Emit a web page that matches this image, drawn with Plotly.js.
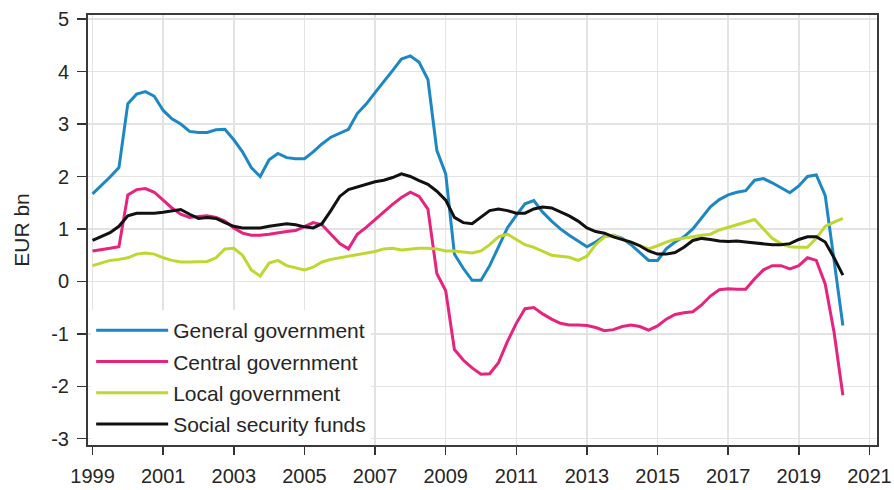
<!DOCTYPE html>
<html>
<head>
<meta charset="utf-8">
<script src="https://cdn.plot.ly/plotly-3.0.1.min.js"></script>
<style>
html,body{margin:0;padding:0;background:#fff;}
#chart{width:894px;height:490px;}
</style>
</head>
<body>
<div id="chart"></div>
<script>
// Quarterly observations, 1999Q1 .. 2020Q2
var startYear = 1999;
var quarterCount = 86;

var generalGovernment = [
  1.67, 1.82, 1.99, 2.17,
  3.39, 3.57, 3.62, 3.53,
  3.26, 3.10, 3.00, 2.86,
  2.84, 2.84, 2.89, 2.90,
  2.70, 2.47, 2.17, 2.00,
  2.32, 2.44, 2.36, 2.34,
  2.34, 2.47, 2.62, 2.75,
  2.82, 2.90, 3.20, 3.38,
  3.60, 3.80, 4.02, 4.24,
  4.30, 4.18, 3.85, 2.50,
  2.05, 0.52, 0.25, 0.02,
  0.02, 0.30, 0.65, 1.02,
  1.26, 1.48, 1.54, 1.32,
  1.15, 1.00, 0.88, 0.77,
  0.66, 0.75, 0.86, 0.88,
  0.82, 0.70, 0.55, 0.40,
  0.40, 0.62, 0.75, 0.85,
  1.00, 1.22, 1.42, 1.56,
  1.65, 1.70, 1.73, 1.93,
  1.96, 1.88, 1.78, 1.69,
  1.82, 2.00, 2.03, 1.64,
  0.40, -0.84
];

var centralGovernment = [
  0.58, 0.60, 0.63, 0.66,
  1.65, 1.75, 1.77, 1.70,
  1.55, 1.40, 1.28, 1.22,
  1.24, 1.25, 1.22, 1.15,
  1.02, 0.92, 0.88, 0.88,
  0.90, 0.93, 0.95, 0.97,
  1.05, 1.12, 1.08, 0.90,
  0.72, 0.62, 0.90, 1.03,
  1.18, 1.33, 1.47, 1.60,
  1.70, 1.62, 1.38, 0.15,
  -0.18, -1.30, -1.50, -1.65,
  -1.77, -1.76, -1.55, -1.15,
  -0.80, -0.52, -0.50, -0.62,
  -0.72, -0.80, -0.83, -0.83,
  -0.84, -0.88, -0.94, -0.92,
  -0.86, -0.83, -0.86, -0.93,
  -0.85, -0.72, -0.63, -0.60,
  -0.58, -0.45, -0.28, -0.16,
  -0.14, -0.15, -0.15, 0.05,
  0.22, 0.30, 0.30, 0.24,
  0.30, 0.45, 0.40, -0.05,
  -0.97, -2.17
];

var localGovernment = [
  0.30, 0.35, 0.40, 0.42,
  0.45, 0.52, 0.54, 0.52,
  0.45, 0.40, 0.37, 0.37,
  0.38, 0.38, 0.45, 0.62,
  0.63, 0.50, 0.22, 0.10,
  0.35, 0.40, 0.30, 0.26,
  0.22, 0.27, 0.37, 0.42,
  0.45, 0.48, 0.50, 0.53,
  0.57, 0.62, 0.63, 0.60,
  0.62, 0.63, 0.63, 0.62,
  0.58, 0.58, 0.56, 0.54,
  0.58, 0.70, 0.85, 0.90,
  0.80, 0.70, 0.65, 0.58,
  0.50, 0.48, 0.46, 0.40,
  0.48, 0.70, 0.85, 0.88,
  0.80, 0.75, 0.68, 0.62,
  0.68, 0.75, 0.80, 0.82,
  0.85, 0.88, 0.90, 0.98,
  1.03, 1.08, 1.12, 1.18,
  1.00, 0.82, 0.72, 0.66,
  0.65, 0.65, 0.82, 1.05,
  1.13, 1.20
];

var socialSecurityFunds = [
  0.78, 0.85, 0.93, 1.05,
  1.25, 1.30, 1.30, 1.30,
  1.32, 1.35, 1.37, 1.28,
  1.20, 1.22, 1.20, 1.12,
  1.05, 1.02, 1.02, 1.02,
  1.05, 1.08, 1.10, 1.08,
  1.04, 1.02, 1.10, 1.35,
  1.62, 1.75, 1.80, 1.85,
  1.90, 1.93, 1.98, 2.05,
  2.00, 1.92, 1.85, 1.72,
  1.55, 1.22, 1.12, 1.10,
  1.22, 1.35, 1.38, 1.35,
  1.30, 1.30, 1.38, 1.42,
  1.40, 1.32, 1.25, 1.15,
  1.02, 0.95, 0.92, 0.85,
  0.80, 0.75, 0.68, 0.58,
  0.52, 0.52, 0.55, 0.65,
  0.78, 0.82, 0.80, 0.77,
  0.76, 0.77, 0.75, 0.73,
  0.72, 0.70, 0.70, 0.72,
  0.80, 0.85, 0.85, 0.75,
  0.45, 0.12
];

var seriesNames = ["General government", "Central government", "Local government", "Social security funds"];
var seriesColors = ["#1d87c4", "#e6237e", "#bfd730", "#111111"];
var yTickVals = [-3, -2, -1, 0, 1, 2, 3, 4, 5];
var yTickText = ["-3", "-2", "-1", "0", "1", "2", "3", "4", "5"];
var xTickYears = [1999, 2001, 2003, 2005, 2007, 2009, 2011, 2013, 2015, 2017, 2019, 2021];

// quarter dates (category positions)
var quarters = [];
for (var i = 0; i < quarterCount; i++) {
  var yr = startYear + Math.floor(i / 4);
  var m = (i % 4) * 3 + 1;
  quarters.push(yr + "-" + (m < 10 ? "0" + m : m) + "-01");
}

var allSeries = [generalGovernment, centralGovernment, localGovernment, socialSecurityFunds];
var traces = allSeries.map(function (vals, k) {
  return {
    x: quarters,
    y: vals,
    type: "scatter",
    mode: "lines",
    name: seriesNames[k],
    legendgroup: "g" + k,
    line: {color: seriesColors[k], width: 3},
    hoverinfo: "x+y+name"
  };
});

var font = "Liberation Sans, Arial, sans-serif";
var txt = "#262626";
var layout = {
  width: 894,
  height: 490,
  margin: {l: 88, r: 17, t: 15, b: 45},
  paper_bgcolor: "#ffffff",
  plot_bgcolor: "#ffffff",
  font: {family: font, size: 20, color: txt},
  showlegend: true,
  legend: {
    x: 0.004, y: 0.0, xanchor: "left", yanchor: "bottom",
    bgcolor: "#ffffff",
    font: {family: font, size: 21, color: txt},
    traceorder: "grouped",
    tracegroupgap: 1,
    itemwidth: 72
  },
  xaxis: {
    type: "date",
    range: ["1998-11-15", "2021-03-20"],
    tickvals: xTickYears.map(function (y) { return y + "-01-01"; }),
    ticktext: xTickYears.map(String),
    ticks: "outside",
    ticklen: 8,
    tickwidth: 1.5,
    tickcolor: "#333",
    ticklabelstandoff: 4,
    showline: true,
    linecolor: "#3a3a3a",
    linewidth: 2,
    mirror: true,
    showgrid: true,
    gridcolor: "#e3e3e3",
    gridwidth: 1.5,
    zeroline: false,
    tickfont: {family: font, size: 20, color: txt}
  },
  yaxis: {
    range: [-3.12, 5.08],
    tickvals: yTickVals,
    ticktext: yTickText,
    ticks: "outside",
    ticklen: 9,
    tickwidth: 1.5,
    tickcolor: "#333",
    ticklabelstandoff: 4,
    showline: true,
    linecolor: "#3a3a3a",
    linewidth: 2,
    mirror: true,
    showgrid: true,
    gridcolor: "#e3e3e3",
    gridwidth: 1.5,
    zeroline: false,
    tickfont: {family: font, size: 20, color: txt},
    title: {text: "EUR bn", font: {family: font, size: 21, color: txt}, standoff: 16}
  }
};

Plotly.newPlot("chart", traces, layout, {displayModeBar: false, staticPlot: true});
</script>
</body>
</html>
